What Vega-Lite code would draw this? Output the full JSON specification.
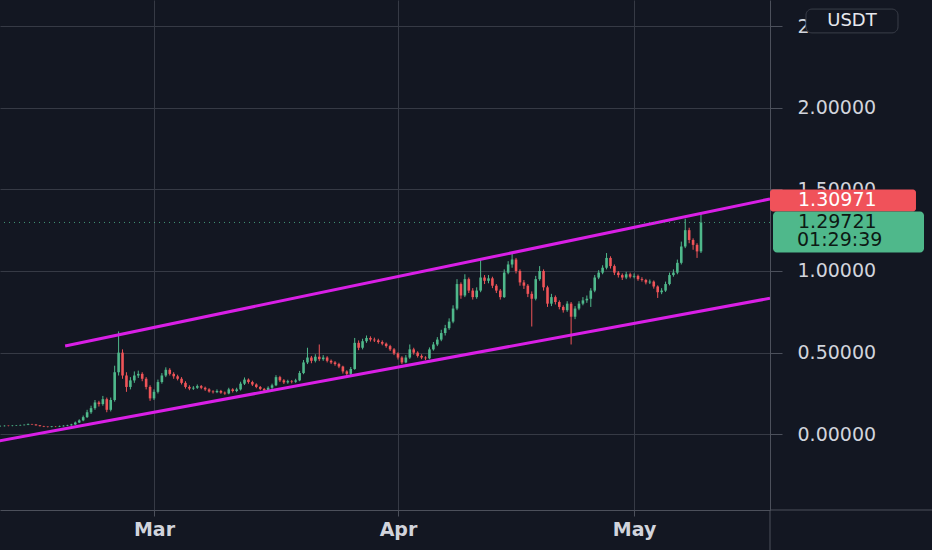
{
  "$schema": "https://vega.github.io/schema/vega-lite/v6.json",
  "width": 770,
  "height": 510,
  "autosize": "none",
  "padding": {"left": 0, "top": 0, "right": 162, "bottom": 40},
  "background": "#131722",
  "datasets": {
    "candles": [
      {"t":"2021-02-09T12:00","o":0.049,"h":0.053,"l":0.047,"c":0.050},
      {"t":"2021-02-10T00:00","o":0.050,"h":0.055,"l":0.048,"c":0.052},
      {"t":"2021-02-10T12:00","o":0.052,"h":0.054,"l":0.049,"c":0.051},
      {"t":"2021-02-11T00:00","o":0.051,"h":0.056,"l":0.049,"c":0.053},
      {"t":"2021-02-11T12:00","o":0.053,"h":0.057,"l":0.051,"c":0.054},
      {"t":"2021-02-12T00:00","o":0.054,"h":0.059,"l":0.052,"c":0.056},
      {"t":"2021-02-12T12:00","o":0.056,"h":0.061,"l":0.054,"c":0.058},
      {"t":"2021-02-13T00:00","o":0.058,"h":0.066,"l":0.056,"c":0.062},
      {"t":"2021-02-13T12:00","o":0.062,"h":0.064,"l":0.057,"c":0.060},
      {"t":"2021-02-14T00:00","o":0.060,"h":0.062,"l":0.053,"c":0.055},
      {"t":"2021-02-14T12:00","o":0.055,"h":0.057,"l":0.048,"c":0.050},
      {"t":"2021-02-15T00:00","o":0.050,"h":0.052,"l":0.044,"c":0.047},
      {"t":"2021-02-15T12:00","o":0.047,"h":0.049,"l":0.042,"c":0.045},
      {"t":"2021-02-16T00:00","o":0.045,"h":0.050,"l":0.043,"c":0.048},
      {"t":"2021-02-16T12:00","o":0.048,"h":0.050,"l":0.044,"c":0.047},
      {"t":"2021-02-17T00:00","o":0.047,"h":0.053,"l":0.045,"c":0.050},
      {"t":"2021-02-17T12:00","o":0.050,"h":0.055,"l":0.048,"c":0.052},
      {"t":"2021-02-18T00:00","o":0.052,"h":0.058,"l":0.050,"c":0.055},
      {"t":"2021-02-18T12:00","o":0.055,"h":0.064,"l":0.053,"c":0.060},
      {"t":"2021-02-19T00:00","o":0.060,"h":0.078,"l":0.058,"c":0.072},
      {"t":"2021-02-19T12:00","o":0.072,"h":0.092,"l":0.069,"c":0.085},
      {"t":"2021-02-20T00:00","o":0.085,"h":0.115,"l":0.080,"c":0.105},
      {"t":"2021-02-20T12:00","o":0.105,"h":0.150,"l":0.100,"c":0.135},
      {"t":"2021-02-21T00:00","o":0.135,"h":0.175,"l":0.125,"c":0.160},
      {"t":"2021-02-21T12:00","o":0.160,"h":0.210,"l":0.150,"c":0.195},
      {"t":"2021-02-22T00:00","o":0.195,"h":0.205,"l":0.170,"c":0.185},
      {"t":"2021-02-22T12:00","o":0.185,"h":0.235,"l":0.175,"c":0.215},
      {"t":"2021-02-23T00:00","o":0.215,"h":0.225,"l":0.135,"c":0.150},
      {"t":"2021-02-23T12:00","o":0.150,"h":0.225,"l":0.140,"c":0.210},
      {"t":"2021-02-24T00:00","o":0.210,"h":0.420,"l":0.200,"c":0.380},
      {"t":"2021-02-24T12:00","o":0.380,"h":0.630,"l":0.360,"c":0.500},
      {"t":"2021-02-25T00:00","o":0.500,"h":0.520,"l":0.340,"c":0.360},
      {"t":"2021-02-25T12:00","o":0.360,"h":0.380,"l":0.260,"c":0.290},
      {"t":"2021-02-26T00:00","o":0.290,"h":0.350,"l":0.275,"c":0.330},
      {"t":"2021-02-26T12:00","o":0.330,"h":0.385,"l":0.315,"c":0.360},
      {"t":"2021-02-27T00:00","o":0.360,"h":0.390,"l":0.345,"c":0.370},
      {"t":"2021-02-27T12:00","o":0.370,"h":0.380,"l":0.325,"c":0.340},
      {"t":"2021-02-28T00:00","o":0.340,"h":0.350,"l":0.275,"c":0.290},
      {"t":"2021-02-28T12:00","o":0.290,"h":0.300,"l":0.205,"c":0.220},
      {"t":"2021-03-01T00:00","o":0.220,"h":0.275,"l":0.210,"c":0.260},
      {"t":"2021-03-01T12:00","o":0.260,"h":0.335,"l":0.250,"c":0.320},
      {"t":"2021-03-02T00:00","o":0.320,"h":0.375,"l":0.310,"c":0.360},
      {"t":"2021-03-02T12:00","o":0.360,"h":0.410,"l":0.350,"c":0.395},
      {"t":"2021-03-03T00:00","o":0.395,"h":0.405,"l":0.360,"c":0.370},
      {"t":"2021-03-03T12:00","o":0.370,"h":0.380,"l":0.340,"c":0.355},
      {"t":"2021-03-04T00:00","o":0.355,"h":0.365,"l":0.330,"c":0.340},
      {"t":"2021-03-04T12:00","o":0.340,"h":0.350,"l":0.305,"c":0.315},
      {"t":"2021-03-05T00:00","o":0.315,"h":0.325,"l":0.280,"c":0.290},
      {"t":"2021-03-05T12:00","o":0.290,"h":0.300,"l":0.270,"c":0.280},
      {"t":"2021-03-06T00:00","o":0.280,"h":0.295,"l":0.272,"c":0.285},
      {"t":"2021-03-06T12:00","o":0.285,"h":0.305,"l":0.278,"c":0.295},
      {"t":"2021-03-07T00:00","o":0.295,"h":0.302,"l":0.276,"c":0.285},
      {"t":"2021-03-07T12:00","o":0.285,"h":0.292,"l":0.266,"c":0.275},
      {"t":"2021-03-08T00:00","o":0.275,"h":0.282,"l":0.255,"c":0.262},
      {"t":"2021-03-08T12:00","o":0.262,"h":0.270,"l":0.250,"c":0.258},
      {"t":"2021-03-09T00:00","o":0.258,"h":0.275,"l":0.252,"c":0.265},
      {"t":"2021-03-09T12:00","o":0.265,"h":0.272,"l":0.248,"c":0.255},
      {"t":"2021-03-10T00:00","o":0.255,"h":0.262,"l":0.242,"c":0.250},
      {"t":"2021-03-10T12:00","o":0.250,"h":0.285,"l":0.245,"c":0.275},
      {"t":"2021-03-11T00:00","o":0.275,"h":0.282,"l":0.256,"c":0.265},
      {"t":"2021-03-11T12:00","o":0.265,"h":0.285,"l":0.258,"c":0.275},
      {"t":"2021-03-12T00:00","o":0.275,"h":0.322,"l":0.268,"c":0.310},
      {"t":"2021-03-12T12:00","o":0.310,"h":0.348,"l":0.302,"c":0.335},
      {"t":"2021-03-13T00:00","o":0.335,"h":0.342,"l":0.310,"c":0.320},
      {"t":"2021-03-13T12:00","o":0.320,"h":0.328,"l":0.296,"c":0.305},
      {"t":"2021-03-14T00:00","o":0.305,"h":0.312,"l":0.282,"c":0.290},
      {"t":"2021-03-14T12:00","o":0.290,"h":0.296,"l":0.270,"c":0.278},
      {"t":"2021-03-15T00:00","o":0.278,"h":0.284,"l":0.260,"c":0.268},
      {"t":"2021-03-15T12:00","o":0.268,"h":0.294,"l":0.262,"c":0.285},
      {"t":"2021-03-16T00:00","o":0.285,"h":0.310,"l":0.278,"c":0.300},
      {"t":"2021-03-16T12:00","o":0.300,"h":0.362,"l":0.295,"c":0.350},
      {"t":"2021-03-17T00:00","o":0.350,"h":0.358,"l":0.320,"c":0.330},
      {"t":"2021-03-17T12:00","o":0.330,"h":0.338,"l":0.308,"c":0.318},
      {"t":"2021-03-18T00:00","o":0.318,"h":0.334,"l":0.310,"c":0.325},
      {"t":"2021-03-18T12:00","o":0.325,"h":0.332,"l":0.312,"c":0.322},
      {"t":"2021-03-19T00:00","o":0.322,"h":0.340,"l":0.315,"c":0.330},
      {"t":"2021-03-19T12:00","o":0.330,"h":0.388,"l":0.325,"c":0.375},
      {"t":"2021-03-20T00:00","o":0.375,"h":0.455,"l":0.368,"c":0.440},
      {"t":"2021-03-20T12:00","o":0.440,"h":0.530,"l":0.430,"c":0.470},
      {"t":"2021-03-21T00:00","o":0.470,"h":0.480,"l":0.435,"c":0.450},
      {"t":"2021-03-21T12:00","o":0.450,"h":0.490,"l":0.440,"c":0.475},
      {"t":"2021-03-22T00:00","o":0.475,"h":0.550,"l":0.448,"c":0.460},
      {"t":"2021-03-22T12:00","o":0.460,"h":0.485,"l":0.450,"c":0.470},
      {"t":"2021-03-23T00:00","o":0.470,"h":0.478,"l":0.440,"c":0.450},
      {"t":"2021-03-23T12:00","o":0.450,"h":0.458,"l":0.430,"c":0.440},
      {"t":"2021-03-24T00:00","o":0.440,"h":0.448,"l":0.420,"c":0.430},
      {"t":"2021-03-24T12:00","o":0.430,"h":0.438,"l":0.405,"c":0.415},
      {"t":"2021-03-25T00:00","o":0.415,"h":0.420,"l":0.372,"c":0.385},
      {"t":"2021-03-25T12:00","o":0.385,"h":0.392,"l":0.358,"c":0.370},
      {"t":"2021-03-26T00:00","o":0.370,"h":0.412,"l":0.362,"c":0.400},
      {"t":"2021-03-26T12:00","o":0.400,"h":0.590,"l":0.395,"c":0.560},
      {"t":"2021-03-27T00:00","o":0.560,"h":0.575,"l":0.515,"c":0.530},
      {"t":"2021-03-27T12:00","o":0.530,"h":0.585,"l":0.520,"c":0.570},
      {"t":"2021-03-28T00:00","o":0.570,"h":0.605,"l":0.560,"c":0.590},
      {"t":"2021-03-28T12:00","o":0.590,"h":0.600,"l":0.568,"c":0.580},
      {"t":"2021-03-29T00:00","o":0.580,"h":0.592,"l":0.565,"c":0.575},
      {"t":"2021-03-29T12:00","o":0.575,"h":0.585,"l":0.555,"c":0.565},
      {"t":"2021-03-30T00:00","o":0.565,"h":0.575,"l":0.545,"c":0.555},
      {"t":"2021-03-30T12:00","o":0.555,"h":0.562,"l":0.530,"c":0.540},
      {"t":"2021-03-31T00:00","o":0.540,"h":0.548,"l":0.510,"c":0.520},
      {"t":"2021-03-31T12:00","o":0.520,"h":0.528,"l":0.485,"c":0.495},
      {"t":"2021-04-01T00:00","o":0.495,"h":0.502,"l":0.458,"c":0.470},
      {"t":"2021-04-01T12:00","o":0.470,"h":0.478,"l":0.430,"c":0.440},
      {"t":"2021-04-02T00:00","o":0.440,"h":0.485,"l":0.435,"c":0.470},
      {"t":"2021-04-02T12:00","o":0.470,"h":0.550,"l":0.462,"c":0.520},
      {"t":"2021-04-03T00:00","o":0.520,"h":0.530,"l":0.488,"c":0.500},
      {"t":"2021-04-03T12:00","o":0.500,"h":0.508,"l":0.470,"c":0.480},
      {"t":"2021-04-04T00:00","o":0.480,"h":0.490,"l":0.460,"c":0.470},
      {"t":"2021-04-04T12:00","o":0.470,"h":0.478,"l":0.455,"c":0.465},
      {"t":"2021-04-05T00:00","o":0.465,"h":0.532,"l":0.460,"c":0.520},
      {"t":"2021-04-05T12:00","o":0.520,"h":0.565,"l":0.512,"c":0.550},
      {"t":"2021-04-06T00:00","o":0.550,"h":0.595,"l":0.540,"c":0.580},
      {"t":"2021-04-06T12:00","o":0.580,"h":0.640,"l":0.570,"c":0.620},
      {"t":"2021-04-07T00:00","o":0.620,"h":0.670,"l":0.605,"c":0.650},
      {"t":"2021-04-07T12:00","o":0.650,"h":0.710,"l":0.640,"c":0.690},
      {"t":"2021-04-08T00:00","o":0.690,"h":0.790,"l":0.680,"c":0.770},
      {"t":"2021-04-08T12:00","o":0.770,"h":0.950,"l":0.760,"c":0.920},
      {"t":"2021-04-09T00:00","o":0.920,"h":0.930,"l":0.830,"c":0.850},
      {"t":"2021-04-09T12:00","o":0.850,"h":0.980,"l":0.840,"c":0.950},
      {"t":"2021-04-10T00:00","o":0.950,"h":0.960,"l":0.865,"c":0.880},
      {"t":"2021-04-10T12:00","o":0.880,"h":0.895,"l":0.825,"c":0.840},
      {"t":"2021-04-11T00:00","o":0.840,"h":0.900,"l":0.830,"c":0.880},
      {"t":"2021-04-11T12:00","o":0.880,"h":1.070,"l":0.870,"c":0.960},
      {"t":"2021-04-12T00:00","o":0.960,"h":0.975,"l":0.920,"c":0.940},
      {"t":"2021-04-12T12:00","o":0.940,"h":0.975,"l":0.925,"c":0.955},
      {"t":"2021-04-13T00:00","o":0.955,"h":0.965,"l":0.895,"c":0.910},
      {"t":"2021-04-13T12:00","o":0.910,"h":0.920,"l":0.865,"c":0.880},
      {"t":"2021-04-14T00:00","o":0.880,"h":0.890,"l":0.825,"c":0.840},
      {"t":"2021-04-14T12:00","o":0.840,"h":1.010,"l":0.835,"c":0.990},
      {"t":"2021-04-15T00:00","o":0.990,"h":1.060,"l":0.980,"c":1.040},
      {"t":"2021-04-15T12:00","o":1.040,"h":1.110,"l":1.020,"c":1.070},
      {"t":"2021-04-16T00:00","o":1.070,"h":1.080,"l":0.985,"c":1.000},
      {"t":"2021-04-16T12:00","o":1.000,"h":1.010,"l":0.910,"c":0.930},
      {"t":"2021-04-17T00:00","o":0.930,"h":0.945,"l":0.890,"c":0.910},
      {"t":"2021-04-17T12:00","o":0.910,"h":0.920,"l":0.840,"c":0.860},
      {"t":"2021-04-18T00:00","o":0.860,"h":0.875,"l":0.660,"c":0.830},
      {"t":"2021-04-18T12:00","o":0.830,"h":0.970,"l":0.820,"c":0.950},
      {"t":"2021-04-19T00:00","o":0.950,"h":1.030,"l":0.940,"c":1.000},
      {"t":"2021-04-19T12:00","o":1.000,"h":1.010,"l":0.880,"c":0.900},
      {"t":"2021-04-20T00:00","o":0.900,"h":0.910,"l":0.780,"c":0.800},
      {"t":"2021-04-20T12:00","o":0.800,"h":0.860,"l":0.785,"c":0.840},
      {"t":"2021-04-21T00:00","o":0.840,"h":0.850,"l":0.795,"c":0.810},
      {"t":"2021-04-21T12:00","o":0.810,"h":0.820,"l":0.765,"c":0.780},
      {"t":"2021-04-22T00:00","o":0.780,"h":0.790,"l":0.745,"c":0.760},
      {"t":"2021-04-22T12:00","o":0.760,"h":0.815,"l":0.750,"c":0.800},
      {"t":"2021-04-23T00:00","o":0.800,"h":0.810,"l":0.550,"c":0.720},
      {"t":"2021-04-23T12:00","o":0.720,"h":0.785,"l":0.705,"c":0.770},
      {"t":"2021-04-24T00:00","o":0.770,"h":0.815,"l":0.760,"c":0.800},
      {"t":"2021-04-24T12:00","o":0.800,"h":0.840,"l":0.790,"c":0.820},
      {"t":"2021-04-25T00:00","o":0.820,"h":0.850,"l":0.805,"c":0.830},
      {"t":"2021-04-25T12:00","o":0.830,"h":0.895,"l":0.780,"c":0.880},
      {"t":"2021-04-26T00:00","o":0.880,"h":0.975,"l":0.870,"c":0.960},
      {"t":"2021-04-26T12:00","o":0.960,"h":1.005,"l":0.950,"c":0.990},
      {"t":"2021-04-27T00:00","o":0.990,"h":1.035,"l":0.980,"c":1.020},
      {"t":"2021-04-27T12:00","o":1.020,"h":1.110,"l":1.010,"c":1.080},
      {"t":"2021-04-28T00:00","o":1.080,"h":1.090,"l":1.015,"c":1.030},
      {"t":"2021-04-28T12:00","o":1.030,"h":1.040,"l":0.975,"c":0.990},
      {"t":"2021-04-29T00:00","o":0.990,"h":1.000,"l":0.960,"c":0.975},
      {"t":"2021-04-29T12:00","o":0.975,"h":0.985,"l":0.945,"c":0.960},
      {"t":"2021-04-30T00:00","o":0.960,"h":0.995,"l":0.950,"c":0.980},
      {"t":"2021-04-30T12:00","o":0.980,"h":0.990,"l":0.955,"c":0.965},
      {"t":"2021-05-01T00:00","o":0.965,"h":0.985,"l":0.955,"c":0.970},
      {"t":"2021-05-01T12:00","o":0.970,"h":0.978,"l":0.940,"c":0.950},
      {"t":"2021-05-02T00:00","o":0.950,"h":0.962,"l":0.935,"c":0.945},
      {"t":"2021-05-02T12:00","o":0.945,"h":0.952,"l":0.918,"c":0.930},
      {"t":"2021-05-03T00:00","o":0.930,"h":0.948,"l":0.920,"c":0.935},
      {"t":"2021-05-03T12:00","o":0.935,"h":0.942,"l":0.892,"c":0.905},
      {"t":"2021-05-04T00:00","o":0.905,"h":0.912,"l":0.835,"c":0.870},
      {"t":"2021-05-04T12:00","o":0.870,"h":0.895,"l":0.858,"c":0.880},
      {"t":"2021-05-05T00:00","o":0.880,"h":0.935,"l":0.872,"c":0.920},
      {"t":"2021-05-05T12:00","o":0.920,"h":0.990,"l":0.912,"c":0.975},
      {"t":"2021-05-06T00:00","o":0.975,"h":1.010,"l":0.965,"c":0.990},
      {"t":"2021-05-06T12:00","o":0.990,"h":1.070,"l":0.980,"c":1.050},
      {"t":"2021-05-07T00:00","o":1.050,"h":1.180,"l":1.040,"c":1.150},
      {"t":"2021-05-07T12:00","o":1.150,"h":1.320,"l":1.140,"c":1.250},
      {"t":"2021-05-08T00:00","o":1.250,"h":1.265,"l":1.170,"c":1.190},
      {"t":"2021-05-08T12:00","o":1.190,"h":1.200,"l":1.130,"c":1.160},
      {"t":"2021-05-09T00:00","o":1.160,"h":1.170,"l":1.080,"c":1.120},
      {"t":"2021-05-09T12:00","o":1.120,"h":1.360,"l":1.110,"c":1.297}
    ],
    "channel": [
      {"g": "upper", "t": "2021-02-17T17:00", "p": 0.541},
      {"g": "upper", "t": "2021-05-18T06:30", "p": 1.441},
      {"g": "lower", "t": "2021-02-07T00:00", "p": -0.061},
      {"g": "lower", "t": "2021-05-18T06:30", "p": 0.833}
    ]
  },
  "layer": [
    {
      "data": {"name": "candles"},
      "mark": {"type": "rule", "strokeWidth": 1},
      "encoding": {
        "x": {
          "field": "t",
          "type": "temporal",
          "title": null,
          "scale": {
            "domain": [
              {"year": 2021, "month": 2, "date": 9, "hours": 10, "minutes": 20},
              {"year": 2021, "month": 5, "date": 18, "hours": 6, "minutes": 30}
            ],
            "padding": 0
          },
          "axis": {
            "values": [
              {"year": 2021, "month": 3, "date": 1},
              {"year": 2021, "month": 4, "date": 1},
              {"year": 2021, "month": 5, "date": 1}
            ],
            "format": "%b",
            "grid": true,
            "gridColor": "#363a45",
            "domainColor": "#4c505b",
            "tickColor": "#4c505b",
            "tickSize": 6,
            "labelFont": "DejaVu Sans",
            "labelFontSize": 19,
            "labelFontWeight": "bold",
            "labelColor": "#d1d4dc",
            "labelPadding": 4,
            "labelFlush": false
          }
        },
        "y": {
          "field": "l",
          "type": "quantitative",
          "title": null,
          "scale": {"domain": [-0.4636, 2.6595], "nice": false, "zero": false},
          "axis": {
            "orient": "right",
            "values": [0, 0.5, 1, 1.5, 2, 2.5],
            "format": ".5f",
            "grid": true,
            "gridColor": "#363a45",
            "domainColor": "#4c505b",
            "tickColor": "#4c505b",
            "tickSize": 12,
            "labelPadding": 15,
            "labelFont": "DejaVu Sans",
            "labelFontSize": 19,
            "labelColor": "#d1d4dc",
            "labelBaseline": "middle"
          }
        },
        "y2": {"field": "h"},
        "color": {
          "condition": {"test": "datum.c >= datum.o", "value": "#4fb88b"},
          "value": "#ef5458"
        }
      }
    },
    {
      "data": {"name": "candles"},
      "mark": {"type": "bar", "size": 2.6},
      "encoding": {
        "x": {"field": "t", "type": "temporal"},
        "y": {"field": "o", "type": "quantitative"},
        "y2": {"field": "c"},
        "color": {
          "condition": {"test": "datum.c >= datum.o", "value": "#4fb88b"},
          "value": "#ef5458"
        }
      }
    },
    {
      "data": {"name": "channel"},
      "mark": {"type": "line", "strokeWidth": 3, "color": "#d91fe6", "clip": true},
      "encoding": {
        "x": {"field": "t", "type": "temporal"},
        "y": {"field": "p", "type": "quantitative"},
        "detail": {"field": "g"}
      }
    },
    {
      "data": {"values": [{}]},
      "mark": {"type": "rule", "color": "#4fb88b", "strokeDash": [1, 4], "strokeWidth": 1, "opacity": 0.8},
      "encoding": {"y": {"datum": 1.29721}}
    },
    {
      "data": {"values": [{}]},
      "mark": {"type": "rule", "color": "#4c505b", "strokeWidth": 1},
      "encoding": {
        "x": {"datum": {"year": 2021, "month": 5, "date": 18, "hours": 6, "minutes": 30}, "type": "temporal"},
        "x2": {"datum": {"year": 2021, "month": 6, "date": 10}},
        "y": {"datum": -0.4636}
      }
    },
    {
      "data": {"values": [{}]},
      "mark": {"type": "rule", "color": "#4c505b", "strokeWidth": 1},
      "encoding": {
        "x": {"datum": {"year": 2021, "month": 5, "date": 18, "hours": 6, "minutes": 30}, "type": "temporal"},
        "y": {"datum": -0.4636},
        "y2": {"datum": -0.75}
      }
    },
    {
      "data": {"values": [{}]},
      "layer": [
        {
          "mark": {"type": "rect", "color": "#f0525a", "yOffset": -31, "y2Offset": -9, "cornerRadius": 3},
          "encoding": {
            "x": {"datum": {"year": 2021, "month": 5, "date": 18, "hours": 6, "minutes": 30}, "type": "temporal"},
            "x2": {"datum": {"year": 2021, "month": 6, "date": 5, "hours": 19, "minutes": 40}},
            "y": {"datum": 1.30971},
            "y2": {"datum": 1.30971}
          }
        },
        {
          "mark": {"type": "text", "x": "width", "dx": 28, "dy": -20, "align": "left", "baseline": "middle", "font": "DejaVu Sans", "fontSize": 19, "color": "#ffffff", "text": "1.30971"},
          "encoding": {"y": {"datum": 1.30971}}
        },
        {
          "mark": {"type": "rect", "color": "#4fb88b", "yOffset": -11, "y2Offset": 30, "cornerRadius": 4},
          "encoding": {
            "x": {"datum": {"year": 2021, "month": 5, "date": 18, "hours": 15, "minutes": 40}, "type": "temporal"},
            "x2": {"datum": {"year": 2021, "month": 6, "date": 6, "hours": 20, "minutes": 10}},
            "y": {"datum": 1.29721},
            "y2": {"datum": 1.29721}
          }
        },
        {
          "mark": {"type": "text", "x": "width", "dx": 28, "align": "left", "baseline": "middle", "font": "DejaVu Sans", "fontSize": 19, "color": "#0d1a14", "text": "1.29721"},
          "encoding": {"y": {"datum": 1.29721}}
        },
        {
          "mark": {"type": "text", "x": "width", "dx": 27, "dy": 18, "align": "left", "baseline": "middle", "font": "DejaVu Sans", "fontSize": 19, "color": "#0d1a14", "text": "01:29:39"},
          "encoding": {"y": {"datum": 1.29721}}
        },
        {
          "mark": {"type": "rect", "fill": "#131722", "stroke": "#3a3e49", "strokeWidth": 1, "cornerRadius": 6},
          "encoding": {
            "x": {"datum": {"year": 2021, "month": 5, "date": 22, "hours": 20, "minutes": 15}, "type": "temporal"},
            "x2": {"datum": {"year": 2021, "month": 6, "date": 3, "hours": 12, "minutes": 45}},
            "y": {"datum": 2.604},
            "y2": {"datum": 2.458}
          }
        },
        {
          "mark": {"type": "text", "x": "width", "dx": 82, "align": "center", "baseline": "middle", "font": "DejaVu Sans", "fontSize": 18, "color": "#e6e8ee", "text": "USDT"},
          "encoding": {"y": {"datum": 2.531}}
        }
      ]
    }
  ],
  "config": {
    "view": {"stroke": null},
    "axis": {"domainWidth": 1, "gridWidth": 1}
  }
}
